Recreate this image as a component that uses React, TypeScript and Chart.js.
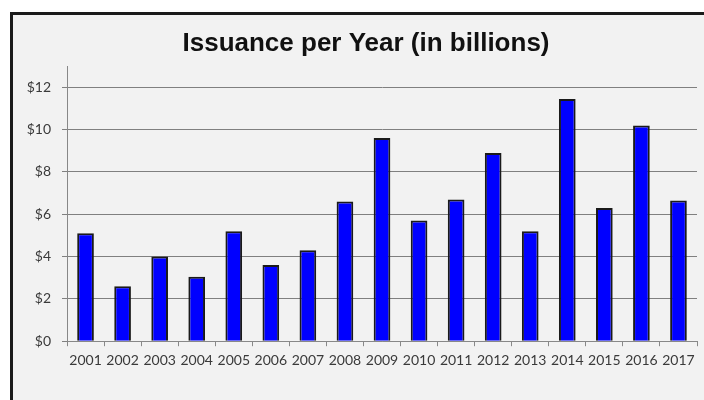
import React, { useEffect, useRef } from "react";
import { Chart, registerables } from "chart.js";

Chart.register(...registerables);

const years: string[] = [
  "2001", "2002", "2003", "2004", "2005", "2006", "2007", "2008", "2009",
  "2010", "2011", "2012", "2013", "2014", "2015", "2016", "2017",
];
const issuance: number[] = [
  5.1, 2.6, 4.0, 3.05, 5.2, 3.6, 4.3, 6.6, 9.6,
  5.7, 6.7, 8.9, 5.2, 11.45, 6.3, 10.2, 6.65,
];
const titleText = "Issuance per Year (in billions)";
const yMax = 13;
const yStep = 2;

// shift the title box so it centres where the reference does
const titleShift = {
  id: "titleShift",
  afterLayout(chart: any) {
    if (chart.titleBlock) chart.titleBlock.left = 35;
  },
};

export default function App() {
  const ref = useRef<HTMLCanvasElement | null>(null);

  useEffect(() => {
    if (!ref.current) return;
    const chart = new Chart(ref.current, {
      type: "bar",
      data: {
        labels: years,
        datasets: [
          {
            label: "Issuance",
            data: issuance,
            backgroundColor: "#0000ff",
            borderColor: "#1a1a1a",
            borderWidth: 2,
            barPercentage: 0.45,
            categoryPercentage: 1,
          },
        ],
      },
      plugins: [titleShift],
      options: {
        responsive: false,
        animation: false,
        devicePixelRatio: 1,
        layout: { padding: { left: 25, right: 7, top: 16, bottom: 25 } },
        plugins: {
          legend: { display: false },
          tooltip: { enabled: false },
          title: {
            display: true,
            text: titleText,
            color: "#111111",
            font: { family: "'Liberation Sans', Arial, sans-serif", size: 26, weight: "bold" },
            padding: { top: 12, bottom: 7 },
          },
        },
        scales: {
          x: {
            grid: {
              display: true,
              drawOnChartArea: false,
              drawTicks: true,
              tickLength: 5,
              color: "#888888",
            },
            border: { display: true, color: "#888888", width: 1 },
            ticks: {
              color: "#3a3a3a",
              font: { family: "Lato, sans-serif", size: 14 },
              padding: 6,
              maxRotation: 0,
              autoSkip: false,
            },
          },
          y: {
            min: 0,
            max: yMax,
            afterBuildTicks: (scale: any) => {
              scale.ticks = scale.ticks.filter((t: any) => t.value <= 12);
            },
            afterFit: (scale: any) => {
              scale.width = 42;
            },
            grid: {
              color: "#808080",
              lineWidth: 1,
              tickLength: 5,
              drawTicks: true,
            },
            border: { display: true, color: "#888888", width: 1 },
            ticks: {
              stepSize: yStep,
              color: "#3a3a3a",
              font: { family: "Lato, sans-serif", size: 14 },
              padding: 11,
              callback: (v: any) => "$" + v,
            },
          },
        },
      },
    });
    return () => chart.destroy();
  }, []);

  return (
    <div
      style={{
        position: "fixed",
        left: 0,
        top: 0,
        width: 704,
        height: 400,
        background: "#ffffff",
        overflow: "hidden",
      }}
    >
      <div
        style={{
          position: "absolute",
          left: 10,
          top: 12,
          width: 720,
          height: 420,
          border: "3px solid #1a1a1a",
          background: "#f2f2f2",
        }}
      />
      <canvas
        ref={ref}
        width={704}
        height={400}
        style={{ position: "absolute", left: 0, top: 0, width: 704, height: 400 }}
      />
    </div>
  );
}
